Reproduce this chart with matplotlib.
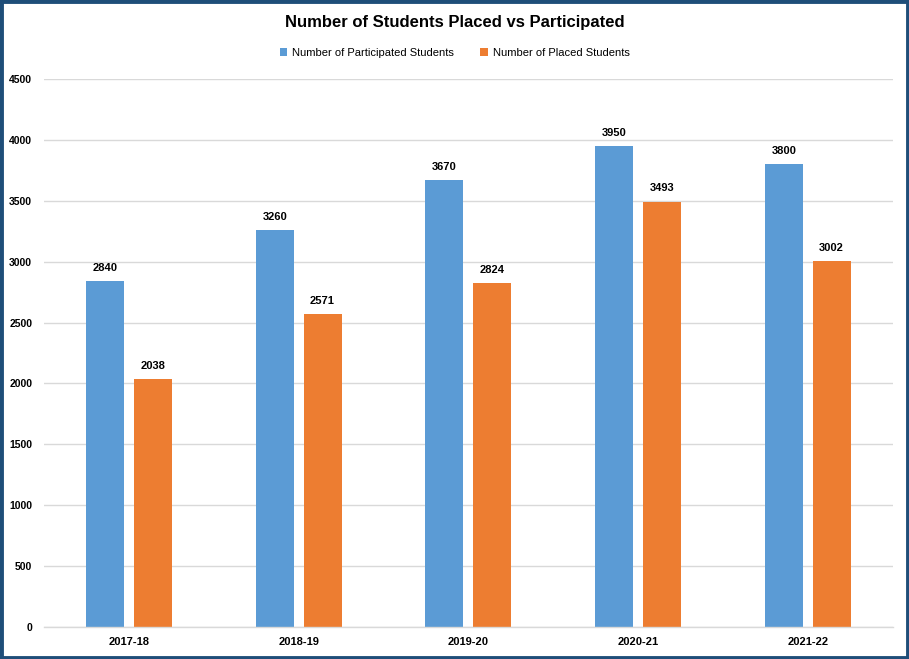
import matplotlib
matplotlib.use("Agg")
import matplotlib.pyplot as plt
from matplotlib.patches import Rectangle
import numpy as np

categories = ["2017-18", "2018-19", "2019-20", "2020-21", "2021-22"]
participated = [2840, 3260, 3670, 3950, 3800]
placed = [2038, 2571, 2824, 3493, 3002]
series_names = ["Number of Participated Students", "Number of Placed Students"]
yticks = [0, 500, 1000, 1500, 2000, 2500, 3000, 3500, 4000, 4500]

blue = "#5B9BD5"
orange = "#ED7D31"
plt.rcParams['font.family'] = ['Liberation Sans', 'DejaVu Sans']

fig = plt.figure(figsize=(9.09, 6.59), dpi=100)
ax = fig.add_axes([0.0484, 0.0486, 0.9336, 0.8314])

x = np.arange(len(categories))
w = 0.224
off = 0.141
b1 = ax.bar(x - off, participated, w, color=blue, label=series_names[0], zorder=3)
b2 = ax.bar(x + off, placed, w, color=orange, label=series_names[1], zorder=3)

for bars, vals in ((b1, participated), (b2, placed)):
    for r, v in zip(bars, vals):
        ax.annotate(f"{v}", (r.get_x() + r.get_width() / 2, v), xytext=(0, 6),
                    textcoords="offset points", ha="center", va="bottom",
                    fontsize=8, fontweight="bold", color="black")

ax.set_xlim(-0.5, len(categories) - 0.5)
ax.set_ylim(0, 4500)
ax.set_yticks(yticks)
ax.set_yticklabels([str(t) for t in yticks], fontsize=7.5, fontweight="bold")
ax.set_xticks(x)
ax.set_xticklabels(categories, fontsize=8, fontweight="bold")
ax.tick_params(axis="both", length=0)
ax.tick_params(axis="x", pad=7)
ax.tick_params(axis="y", pad=8.5)
ax.grid(axis="y", color="#D9D9D9", linewidth=1, zorder=0)
for s in ["top", "right", "left"]:
    ax.spines[s].set_visible(False)
ax.spines["bottom"].set_color("#D9D9D9")
ax.spines["bottom"].set_linewidth(1)
ax.spines["bottom"].set_zorder(4)

fig.text(0.5, 1 - 22 / 659, "Number of Students Placed vs Participated", ha="center", va="center",
         fontsize=12, fontweight="bold")
fig.legend(handles=[b1, b2], labels=series_names, loc="center", bbox_to_anchor=(0.5, 1 - 53 / 659),
           ncol=2, frameon=False, fontsize=8, handlelength=0.7, handleheight=0.7,
           columnspacing=2.4, handletextpad=0.4)

fig.add_artist(Rectangle((0.0015, 0.002), 0.997, 0.996, transform=fig.transFigure, fill=False,
                         edgecolor="#1F4E79", linewidth=3.5))

fig.savefig("out.png", dpi=100)
